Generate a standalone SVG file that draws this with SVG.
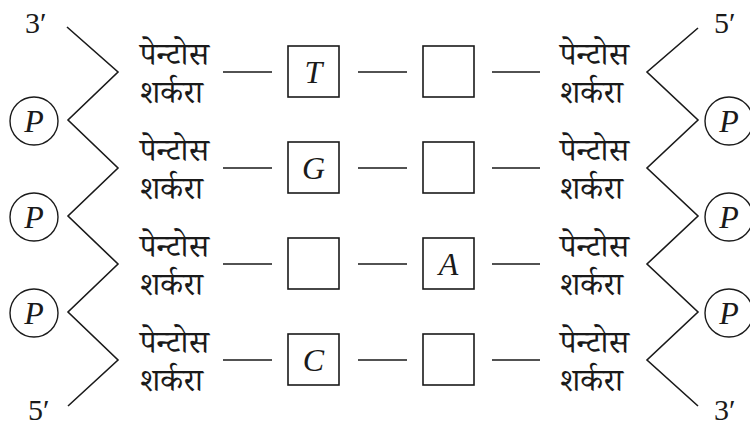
<svg xmlns="http://www.w3.org/2000/svg" width="750" height="426" viewBox="0 0 750 426">
<style>
.bg{fill:#fff}
.ln{stroke:#1a1a1a;stroke-width:1.6;fill:none}
.box{stroke:#1a1a1a;stroke-width:1.6;fill:#fff}
.cir{stroke:#1a1a1a;stroke-width:1.4;fill:#fff}
.dv{font-family:"Noto Serif Devanagari","Noto Sans Devanagari","Lohit Devanagari","Liberation Serif",serif;font-size:32px;fill:#1a1a1a}
.it{font-family:"Liberation Serif",serif;font-style:italic;font-size:32px;fill:#1a1a1a;text-anchor:middle}
.end{font-family:"Liberation Serif",serif;font-size:30px;fill:#1a1a1a}
</style>
<rect class="bg" x="0" y="0" width="750" height="426"/>
<g id="connectors">
<polyline class="ln" points="67,27 118,72 68,120 118,168 68,216 118,264 68,312 118,360 68,406"/>
<polyline class="ln" points="698,28 647,72 698,120 647,168 698,216 647,264 698,312 647,360 698,406"/>
<path class="ln" d="M223,72H272M358,72H407M492,72H540M223,168H272M358,168H407M492,168H540M223,264H272M358,264H407M492,264H540M223,360H272M358,360H407M492,360H540"/>
</g>
<g id="end-3-left"><text class="end" x="25" y="33">3′</text></g>
<g id="end-5-left"><text class="end" x="28" y="420">5′</text></g>
<g id="end-5-right"><text class="end" x="714" y="33">5′</text></g>
<g id="end-3-right"><text class="end" x="714" y="420">3′</text></g>
<g id="p-left-1"><circle class="cir" cx="34" cy="121" r="24"/><text class="it" x="34" y="132">P</text></g>
<g id="p-left-2"><circle class="cir" cx="34" cy="217" r="24"/><text class="it" x="34" y="228">P</text></g>
<g id="p-left-3"><circle class="cir" cx="34" cy="313" r="24"/><text class="it" x="34" y="324">P</text></g>
<g id="p-right-1"><circle class="cir" cx="729" cy="121" r="24"/><text class="it" x="729" y="132">P</text></g>
<g id="p-right-2"><circle class="cir" cx="729" cy="217" r="24"/><text class="it" x="729" y="228">P</text></g>
<g id="p-right-3"><circle class="cir" cx="729" cy="313" r="24"/><text class="it" x="729" y="324">P</text></g>
<g id="sugar-left-1"><text class="dv" x="140" y="65">पेन्टोस</text><text class="dv" x="140" y="103">शर्करा</text></g>
<g id="sugar-left-2"><text class="dv" x="140" y="161">पेन्टोस</text><text class="dv" x="140" y="199">शर्करा</text></g>
<g id="sugar-left-3"><text class="dv" x="140" y="257">पेन्टोस</text><text class="dv" x="140" y="295">शर्करा</text></g>
<g id="sugar-left-4"><text class="dv" x="140" y="353">पेन्टोस</text><text class="dv" x="140" y="391">शर्करा</text></g>
<g id="sugar-right-1"><text class="dv" x="560" y="65">पेन्टोस</text><text class="dv" x="560" y="103">शर्करा</text></g>
<g id="sugar-right-2"><text class="dv" x="560" y="161">पेन्टोस</text><text class="dv" x="560" y="199">शर्करा</text></g>
<g id="sugar-right-3"><text class="dv" x="560" y="257">पेन्टोस</text><text class="dv" x="560" y="295">शर्करा</text></g>
<g id="sugar-right-4"><text class="dv" x="560" y="353">पेन्टोस</text><text class="dv" x="560" y="391">शर्करा</text></g>
<g id="base-T"><rect class="box" x="288" y="46" width="51" height="51"/><text class="it" x="313.5" y="83">T</text></g>
<g id="base-empty-1"><rect class="box" x="423" y="46" width="51" height="51"/></g>
<g id="base-G"><rect class="box" x="288" y="142" width="51" height="51"/><text class="it" x="313.5" y="179">G</text></g>
<g id="base-empty-2"><rect class="box" x="423" y="142" width="51" height="51"/></g>
<g id="base-empty-3"><rect class="box" x="288" y="238" width="51" height="51"/></g>
<g id="base-A"><rect class="box" x="423" y="238" width="51" height="51"/><text class="it" x="448.5" y="275">A</text></g>
<g id="base-C"><rect class="box" x="288" y="334" width="51" height="51"/><text class="it" x="313.5" y="371">C</text></g>
<g id="base-empty-4"><rect class="box" x="423" y="334" width="51" height="51"/></g>
</svg>
